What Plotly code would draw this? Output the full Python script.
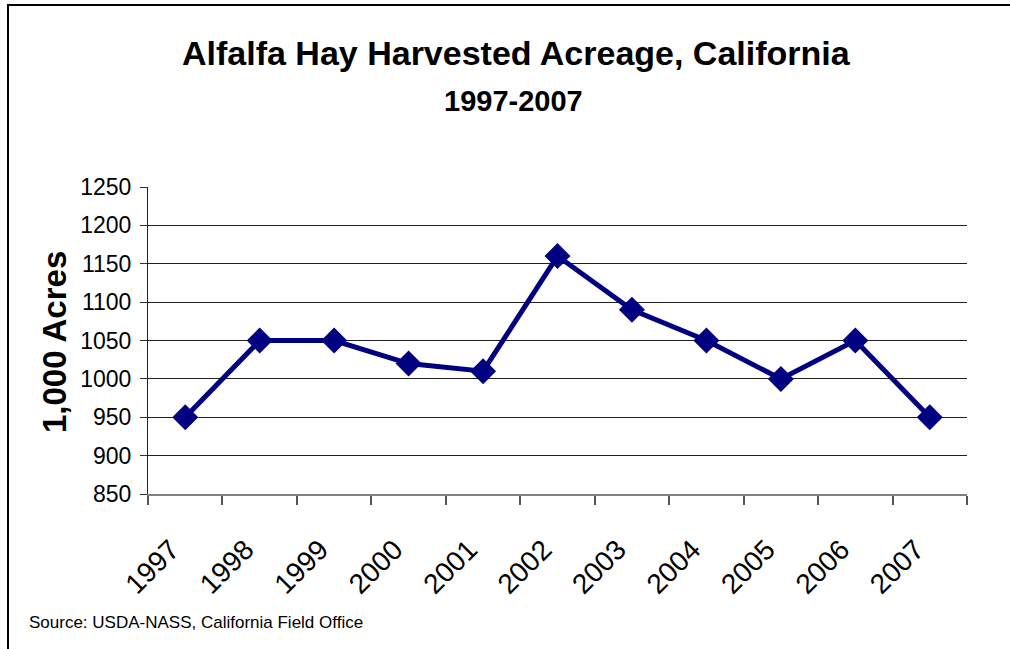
import plotly.graph_objects as go

years = ["1997", "1998", "1999", "2000", "2001", "2002", "2003", "2004", "2005", "2006", "2007"]
acres = [950, 1050, 1050, 1020, 1010, 1160, 1090, 1050, 1000, 1050, 950]
y_ticks = [850, 900, 950, 1000, 1050, 1100, 1150, 1200, 1250]

title_text = "Alfalfa Hay Harvested Acreage, California"
subtitle_text = "1997-2007"
y_title = "1,000 Acres"
source_text = "Source: USDA-NASS, California Field Office"

W, H = 1010, 649
L, R, T, B = 148, 967, 187, 494

def px(x):
    return (x - L) / (R - L)

def py(y):
    return (B - y) / (B - T)

REG = "Liberation Sans, Arial, sans-serif"

fig = go.Figure()
fig.add_trace(go.Scatter(
    x=years, y=acres, mode="lines+markers",
    line=dict(color="#000080", width=5),
    marker=dict(symbol="diamond", size=20, color="#000080"),
    cliponaxis=False, showlegend=False,
))

fig.update_layout(
    width=W, height=H,
    margin=dict(l=L, r=W - R, t=T, b=H - B, pad=0),
    paper_bgcolor="white", plot_bgcolor="white",
    xaxis=dict(
        type="category", range=[-0.5, len(years) - 0.5],
        tickson="boundaries", ticks="outside", ticklen=9, tickwidth=1.5,
        tickcolor="#555555", showline=True, linecolor="#808080", linewidth=2,
        showgrid=False, tickangle=-45, ticklabelstandoff=26, ticklabelshift=-14,
        tickfont=dict(family=REG, size=28, color="black"),
    ),
    yaxis=dict(
        range=[850, 1250], tickvals=y_ticks, ticks="outside", ticklen=7,
        tickcolor="#333333", showline=True, linecolor="#222222", linewidth=1,
        showgrid=True, gridcolor="#202020", gridwidth=1, zeroline=False,
        ticklabelstandoff=4,
        tickfont=dict(family=REG, size=23, color="black"),
    ),
    annotations=[
        dict(text="<b>" + title_text + "</b>", xref="paper", yref="paper",
             x=px(516), y=py(53), xanchor="center", yanchor="middle", showarrow=False,
             font=dict(family=REG, size=34, color="black")),
        dict(text="<b>" + subtitle_text + "</b>", xref="paper", yref="paper",
             x=px(513), y=py(101), xanchor="center", yanchor="middle", showarrow=False,
             font=dict(family=REG, size=29, color="black")),
        dict(text="<b>" + y_title + "</b>", xref="paper", yref="paper",
             x=px(54), y=py(342), xanchor="center", yanchor="middle", showarrow=False,
             textangle=-90, font=dict(family=REG, size=33, color="black")),
        dict(text=source_text, xref="paper", yref="paper",
             x=px(27), y=py(622), xanchor="left", yanchor="middle", showarrow=False,
             font=dict(family=REG, size=17, color="black")),
    ],
    shapes=[
        dict(type="rect", xref="paper", yref="paper",
             x0=px(8), x1=px(1020), y0=py(5), y1=py(660),
             line=dict(color="black", width=2), fillcolor="rgba(0,0,0,0)", layer="above"),
    ],
)

fig.write_html("out.html")
